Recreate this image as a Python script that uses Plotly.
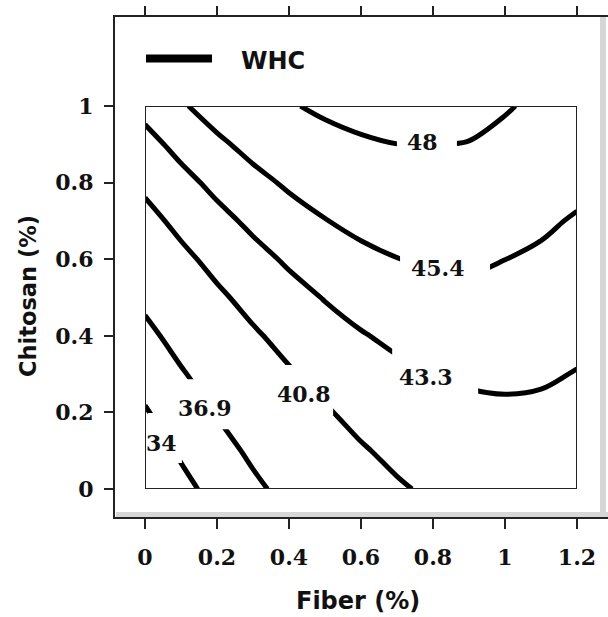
import plotly.graph_objects as go

# ---------------- data ----------------
fiber = [0.0, 0.1, 0.2, 0.3, 0.4, 0.5, 0.6, 0.7, 0.8, 0.9, 1.0, 1.1, 1.2]
chitosan = [0.0, 0.1, 0.2, 0.3, 0.4, 0.5, 0.6, 0.7, 0.8, 0.9, 1.0]
# WHC values estimated on the grid (rows = chitosan, columns = fiber)
whc = [
    [31.39, 33.23, 34.89, 36.38, 37.68, 38.82, 39.77, 40.55, 41.15, 41.57, 41.82, 41.89, 41.78],
    [32.58, 34.36, 35.96, 37.38, 38.63, 39.70, 40.60, 41.31, 41.85, 42.22, 42.41, 42.42, 42.25],
    [33.78, 35.50, 37.04, 38.40, 39.59, 40.60, 41.44, 42.10, 42.58, 42.88, 43.01, 42.96, 42.73],
    [35.00, 36.66, 38.14, 39.44, 40.57, 41.52, 42.30, 42.89, 43.31, 43.56, 43.62, 43.52, 43.23],
    [36.23, 37.83, 39.25, 40.49, 41.56, 42.45, 43.17, 43.70, 44.06, 44.25, 44.26, 44.09, 43.74],
    [37.48, 39.02, 40.38, 41.56, 42.57, 43.40, 44.05, 44.53, 44.83, 44.96, 44.90, 44.67, 44.27],
    [38.74, 40.22, 41.52, 42.64, 43.59, 44.36, 44.96, 45.37, 45.61, 45.68, 45.41, 45.10, 44.81],
    [40.02, 41.44, 42.68, 43.74, 44.63, 45.34, 45.87, 46.23, 46.41, 46.41, 46.24, 45.72, 45.22],
    [41.31, 42.67, 43.85, 44.85, 45.68, 46.33, 46.81, 47.10, 47.22, 47.17, 46.93, 46.52, 45.93],
    [42.62, 43.92, 45.04, 45.98, 46.75, 47.34, 47.75, 47.99, 48.05, 47.93, 47.64, 47.17, 46.52],
    [43.94, 45.18, 46.24, 47.12, 47.83, 48.36, 48.71, 48.89, 48.89, 48.71, 48.12, 47.70, 47.12],
]
levels = [34, 36.9, 40.8, 43.3, 45.4, 48]
level_labels = ["34", "36.9", "40.8", "43.3", "45.4", "48"]
x_ticks = [0, 0.2, 0.4, 0.6, 0.8, 1.0, 1.2]
x_ticktext = ["0", "0.2", "0.4", "0.6", "0.8", "1", "1.2"]
y_ticks = [0, 0.2, 0.4, 0.6, 0.8, 1.0]
y_ticktext = ["0", "0.2", "0.4", "0.6", "0.8", "1"]
series_name = "WHC"
x_title = "Fiber (%)"
y_title = "Chitosan (%)"

# ---------------- layout / style ----------------
W, H = 608, 617
ML, MR, MT, MB = 114, 0, 16, 99
PW, PH = W - ML - MR, H - MT - MB


def px_x(p):
    return (p - ML) / PW


def px_y(p):
    return (H - MB - p) / PH


# label anchors (data coords) and gap masks (pixel offsets: dx0, dx1, dy0 (up), dy1 (down))
label_pos = [(0.047, 0.120), (0.167, 0.211), (0.442, 0.248), (0.781, 0.292), (0.814, 0.577), (0.772, 0.906)]
label_mask = [(-14, 20, -30, 20), (-27, 27, -29, 21), (-25, 29, -29, 21),
              (-34, 52, -37, 23), (-38, 52, -18, 12), (-26, 34, -16, 10)]

SERIF = "DejaVu Serif"
SANS = "DejaVu Sans"
INK = "#111111"

fig = go.Figure()
for lv in levels:
    fig.add_trace(go.Contour(
        x=fiber, y=chitosan, z=whc,
        contours=dict(start=lv, end=lv, size=1, coloring="none", showlabels=False),
        line=dict(color="black", width=5, smoothing=1.0),
        showscale=False, hoverinfo="skip", showlegend=False,
    ))
# invisible trace to carry the top tick axis
fig.add_trace(go.Scatter(x=[x_ticks[0], x_ticks[-1]], y=[y_ticks[0], y_ticks[-1]],
                         xaxis="x2", yaxis="y", mode="markers",
                         marker=dict(opacity=0), hoverinfo="skip", showlegend=False))

shapes = []
# sunken-frame shading (bottom and right)
shapes.append(dict(type="rect", xref="paper", yref="paper", x0=px_x(116), x1=px_x(612),
                   y0=px_y(518), y1=px_y(512), fillcolor="#d6d6d6", line=dict(width=0), layer="below"))
shapes.append(dict(type="rect", xref="paper", yref="paper", x0=px_x(600), x1=px_x(606),
                   y0=px_y(518), y1=px_y(17), fillcolor="#d6d6d6", line=dict(width=0), layer="below"))
# outer frame
shapes.append(dict(type="rect", xref="paper", yref="paper", x0=px_x(114), x1=px_x(640),
                   y0=px_y(518), y1=px_y(16), line=dict(color="#222222", width=2), layer="below"))
# label gap masks
for (lx, ly), (dx0, dx1, dy0, dy1) in zip(label_pos, label_mask):
    shapes.append(dict(type="rect", xref="x", yref="y", xsizemode="pixel", ysizemode="pixel",
                       xanchor=lx, yanchor=ly, x0=dx0, x1=dx1, y0=-dy1, y1=-dy0,
                       fillcolor="white", line=dict(width=0), layer="above"))
# inner plotting box
shapes.append(dict(type="rect", xref="x", yref="y", x0=x_ticks[0], x1=x_ticks[-1],
                   y0=y_ticks[0], y1=y_ticks[-1], line=dict(color="#222222", width=2), layer="above"))
# legend line
shapes.append(dict(type="line", xref="paper", yref="paper", x0=px_x(146), x1=px_x(212),
                   y0=px_y(58.5), y1=px_y(58.5), line=dict(color="black", width=8)))

annotations = []
for (lx, ly), txt in zip(label_pos, level_labels):
    annotations.append(dict(x=lx, y=ly, xref="x", yref="y", text=txt, showarrow=False,
                            font=dict(family=SERIF, size=22, color=INK, weight="bold"),
                            xanchor="center", yanchor="middle"))
annotations.append(dict(x=px_x(239), y=px_y(61), xref="paper", yref="paper", text=series_name,
                        showarrow=False, xanchor="left", yanchor="middle",
                        font=dict(family=SANS, size=24, color=INK, weight="bold")))
annotations.append(dict(x=px_x(358), y=px_y(601), xref="paper", yref="paper", text=x_title,
                        showarrow=False, xanchor="center", yanchor="middle",
                        font=dict(family=SANS, size=24, color=INK, weight="bold")))
annotations.append(dict(x=px_x(28), y=px_y(296), xref="paper", yref="paper", text=y_title,
                        showarrow=False, xanchor="center", yanchor="middle", textangle=-90,
                        font=dict(family=SANS, size=22.5, color=INK, weight="bold")))

tickfont = dict(family=SERIF, size=22, color=INK, weight="bold")
xdom = [px_x(145), px_x(577)]
ydom = [px_y(489), px_y(106)]

fig.update_layout(
    width=W, height=H, autosize=False,
    margin=dict(l=ML, r=MR, t=MT, b=MB, pad=0, autoexpand=False),
    paper_bgcolor="white", plot_bgcolor="white",
    showlegend=False,
    xaxis=dict(domain=xdom, range=[x_ticks[0], x_ticks[-1]], anchor="free", position=0,
               tickmode="array", tickvals=x_ticks, ticktext=x_ticktext,
               ticks="outside", ticklen=10, tickwidth=2, tickcolor="#222222",
               showline=False, showgrid=False, zeroline=False, tickfont=tickfont,
               ticklabelstandoff=10, automargin=False),
    xaxis2=dict(domain=xdom, range=[x_ticks[0], x_ticks[-1]], anchor="free", position=1,
                overlaying="x", side="top", tickmode="array", tickvals=x_ticks,
                ticks="outside", ticklen=10, tickwidth=2, tickcolor="#222222",
                showticklabels=False, showline=False, showgrid=False, zeroline=False,
                automargin=False),
    yaxis=dict(domain=ydom, range=[y_ticks[0], y_ticks[-1]], anchor="free", position=0,
               tickmode="array", tickvals=y_ticks, ticktext=y_ticktext,
               ticks="outside", ticklen=10, tickwidth=2, tickcolor="#222222",
               showline=False, showgrid=False, zeroline=False, tickfont=tickfont,
               ticklabelstandoff=6, automargin=False),
    shapes=shapes,
    annotations=annotations,
)

fig.write_html("out.html")
